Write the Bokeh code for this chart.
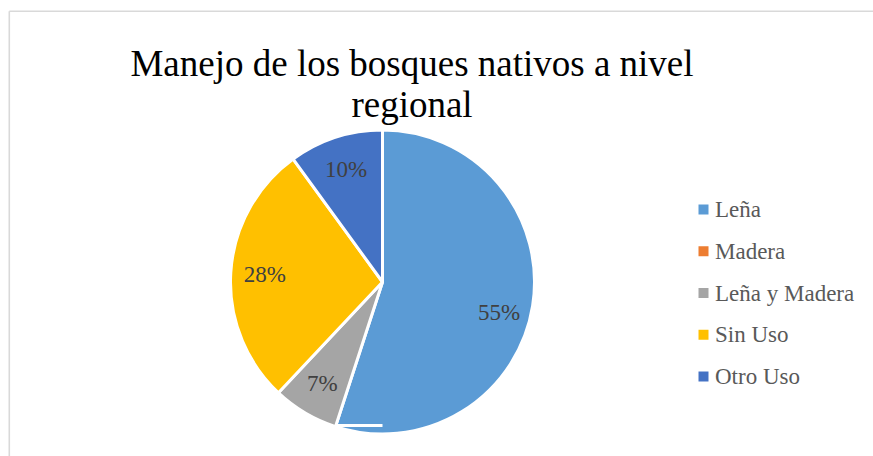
import math
from bokeh.plotting import figure
from bokeh.models import Range1d
from bokeh.core.properties import value
from bokeh.embed import file_html
from bokeh.resources import INLINE

# ---- data ----
categories = ["Leña", "Madera", "Leña y Madera", "Sin Uso", "Otro Uso"]
percents = [55, 0, 7, 28, 10]
colors = ["#5B9BD5", "#ED7D31", "#A5A5A5", "#FFC000", "#4472C4"]
title_lines = ["Manejo de los bosques nativos a nivel", "regional"]

# ---- layout (page pixel coordinates; y measured downward) ----
W, H = 873, 456
X0, Y0 = 0, 0
cx, cy, R = 382.0, 281.5, 152.0
label_r = 118.0
label_nudge_y = {0: 12}
FONT = value("Liberation Serif")

p = figure(width=W, height=H, output_backend="svg", toolbar_location=None,
           x_range=Range1d(X0, X0 + W), y_range=Range1d(-(Y0 + H), -Y0),
           min_border=0)
p.axis.visible = False
p.grid.visible = False
p.outline_line_color = None
p.background_fill_color = "white"
p.border_fill_color = "white"

# chart area border (left and top visible)
p.segment(x0=[8.8, 8.8], y0=[-10.8, -10.8], x1=[8.8, 900], y1=[-500, -10.8],
          line_color="#D9D9D9", line_width=1.6)

total = float(sum(percents))
cum = 0.0
starts, ends, mids = [], [], []
for v in percents:
    a0 = math.pi / 2 - 2 * math.pi * cum / total
    cum += v
    a1 = math.pi / 2 - 2 * math.pi * cum / total
    starts.append(a0)
    ends.append(a1)
    mids.append((a0 + a1) / 2)

for i, v in enumerate(percents):
    if v <= 0:
        continue
    p.wedge(x=cx, y=-cy, radius=R, start_angle=starts[i], end_angle=ends[i],
            direction="clock", fill_color=colors[i], line_color="white",
            line_width=3)

# leader line of the hidden 0% label
for i, v in enumerate(percents):
    if v == 0:
        a = starts[i]
        ex = cx + (R - 1) * math.cos(a)
        ey = -cy + (R - 1) * math.sin(a)
        p.segment(x0=[ex], y0=[ey], x1=[cx], y1=[ey], line_color="white",
                  line_width=3)

# data labels
for i, v in enumerate(percents):
    if v <= 0:
        continue
    lx = cx + label_r * math.cos(mids[i])
    ly = -cy + label_r * math.sin(mids[i]) - label_nudge_y.get(i, 0)
    p.text(x=[lx], y=[ly], text=[f"{v}%"], text_font=FONT,
           text_font_size="23px", text_color="#404040",
           text_align="center", text_baseline="middle")

# title
title_baselines = [62.5, 103.5]
for t, b in zip(title_lines, title_baselines):
    p.text(x=[411.5], y=[-b], text=[t], text_font=FONT, text_font_size="37px",
           text_color="#000000", text_align="center",
           text_baseline="alphabetic")

# legend
leg_top, leg_step = 209.0, 41.75
for i, c in enumerate(categories):
    yy = -(leg_top + i * leg_step)
    p.rect(x=[703.0], y=[yy], width=10, height=10, fill_color=colors[i],
           line_color=None)
    p.text(x=[714.5], y=[yy], text=[c], text_font=FONT, text_font_size="23px",
           text_color="#595959", text_align="left", text_baseline="middle")

open("out.html", "w").write(file_html(p, INLINE))
